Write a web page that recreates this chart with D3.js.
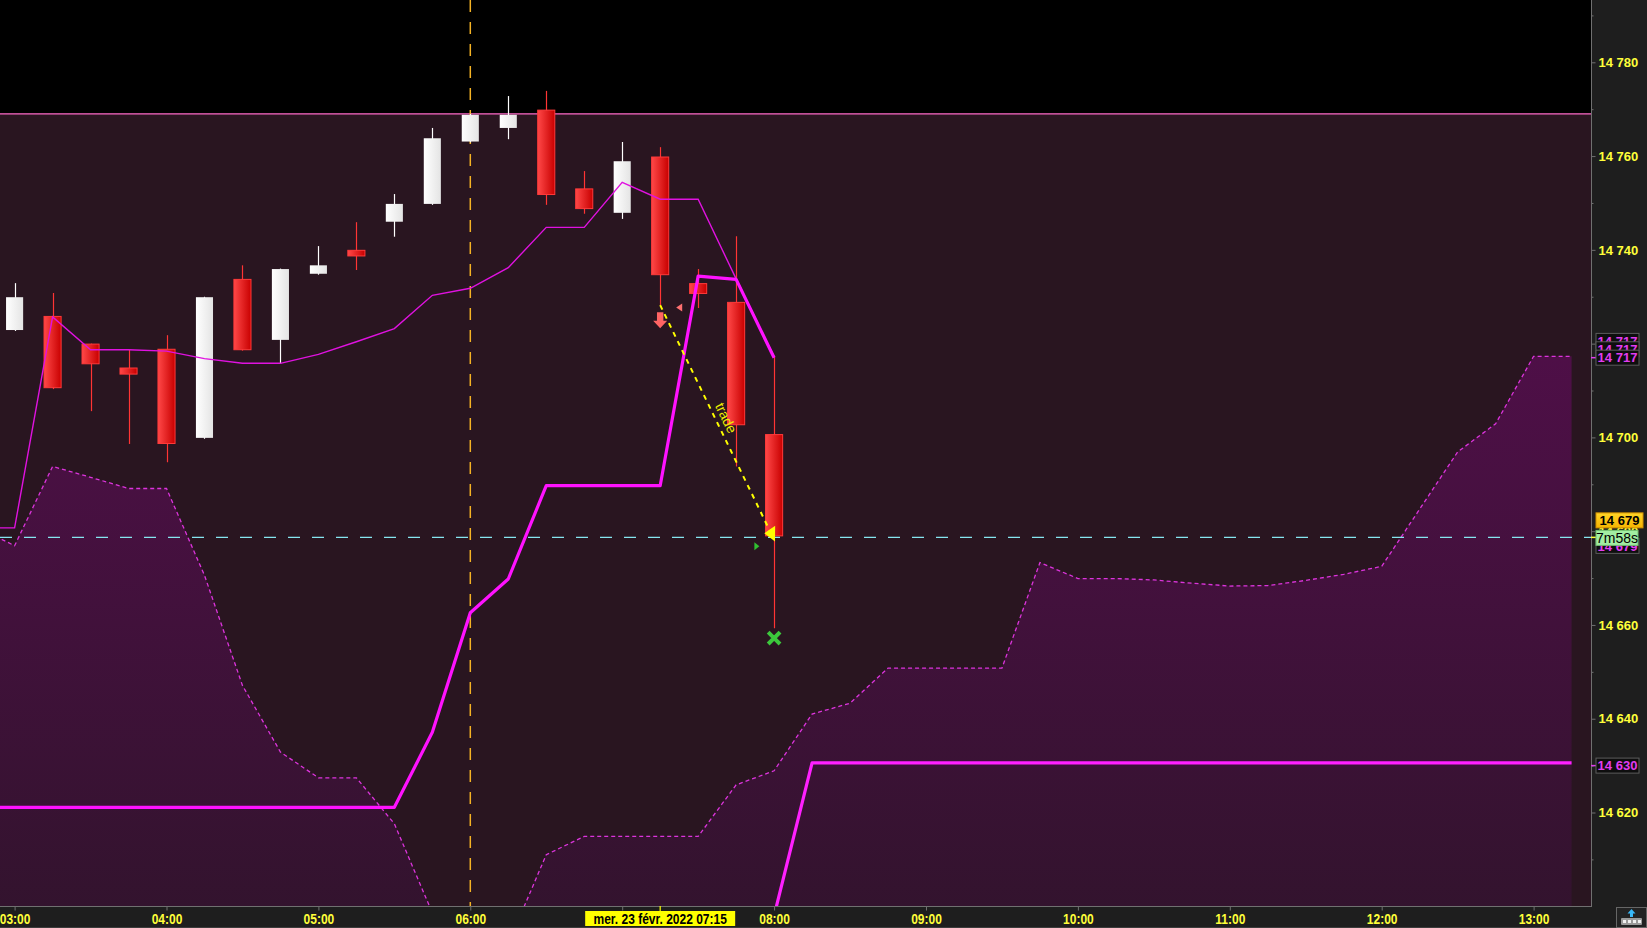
<!DOCTYPE html>
<html><head><meta charset="utf-8">
<script src="https://cdn.jsdelivr.net/npm/d3@7"></script>
<style>html,body{margin:0;padding:0;background:#1e1e1e;overflow:hidden}</style>
</head><body><svg id="c" width="1647" height="928"></svg>
<script>
// ---------- DATA ----------
const candleTimes = ["03:00","03:15","03:30","03:45","04:00","04:15","04:30","04:45","05:00","05:15","05:30","05:45","06:00","06:15","06:30","06:45","07:00","07:15","07:30","07:45","08:00"];
const openValues  = [14722.9,14725.8,14719.9,14714.8,14718.8,14699.9,14733.7,14720.8,14734.9,14739.9,14746.0,14749.8,14763.1,14766.0,14769.8,14753.0,14747.9,14759.8,14732.8,14728.8,14700.6];
const highValues  = [14732.9,14730.8,14720.0,14718.7,14721.8,14730.0,14736.7,14736.0,14740.8,14745.9,14751.9,14766.0,14769.0,14772.8,14773.9,14756.8,14763.0,14761.9,14735.9,14742.9,14717.2];
const lowValues   = [14722.7,14710.3,14705.6,14698.6,14694.7,14699.7,14718.5,14715.8,14734.7,14735.7,14742.8,14749.6,14762.9,14763.6,14749.6,14747.7,14746.6,14728.2,14727.6,14693.8,14659.3];
const closeValues = [14729.9,14710.6,14715.7,14713.5,14698.7,14729.9,14718.7,14735.9,14736.7,14738.7,14749.8,14763.8,14768.8,14768.8,14751.8,14748.8,14758.9,14734.7,14730.7,14702.7,14679.0];

const lineTimes = ["02:45","03:00","03:15","03:30","03:45","04:00","04:15","04:30","04:45","05:00","05:15","05:30","05:45","06:00","06:15","06:30","06:45","07:00","07:15","07:30","07:45","08:00"];
const maValues     = [14680.7,14680.7,14725.7,14718.7,14718.7,14718.4,14716.8,14715.8,14715.8,14717.7,14720.4,14723.2,14730.3,14731.8,14736.2,14744.8,14744.8,14754.4,14750.8,14750.8,14733.8,14717.2];
const baseValues   = [14621.1,14621.1,14621.1,14621.1,14621.1,14621.1,14621.1,14621.1,14621.1,14621.1,14621.1,14621.1,14637.1,14662.6,14669.8,14689.7,14689.7,14689.7,14689.7,14734.4,14733.7,14717.0];

const projTimes  = ["08:00","08:15","13:15"];
const projValues = [14598, 14630.6, 14630.6];

const cloudTimes = ["02:45","03:00","03:15","03:30","03:45","04:00","04:15","04:30","04:45","05:00","05:15","05:30","05:45","06:00","06:15","06:30","06:45","07:00","07:15","07:30","07:45","08:00","08:15","08:30","08:45","09:00","09:15","09:30","09:45","10:00","10:15","10:30","10:45","11:00","11:15","11:30","11:45","12:00","12:15","12:30","12:45","13:00","13:15"];
const cloudValues = [14680.9,14676.9,14693.8,14691.5,14689.1,14689.1,14670.6,14647.1,14632.9,14627.4,14627.4,14617.6,14598.6,14590.0,14592.0,14611.0,14614.9,14614.9,14614.9,14614.9,14625.9,14628.9,14641.0,14643.3,14650.8,14650.8,14650.8,14650.8,14673.3,14669.9,14669.9,14669.6,14668.9,14668.3,14668.4,14669.5,14670.8,14672.5,14684.7,14696.9,14702.9,14717.3,14717.3];

const rangeTopLevel = 14769;
const lastPrice = 14679;
const verticalMarkTime = "06:00";
const crosshairTime = "07:15";
const yTickValues = [14620,14640,14660,14680,14700,14720,14740,14760,14780];
const yMinorValues = [14610,14630,14650,14670,14690,14710,14730,14750,14770,14790];
const xTickLabels = ["03:00","04:00","05:00","06:00","07:00","08:00","09:00","10:00","11:00","12:00","13:00"];
const hiddenXLabels = ["07:00"];
const dateLabel = "mer. 23 févr. 2022 07:15";
const timerLabel = "7m58s";
const tradeFrom = {time:"07:15", value:14728.2};
const tradeTo   = {time:"08:00", value:14678.2};
const tradeText = "trade";
const entryArrow = {time:"07:15", value:14723.3};
const smallRedTri = {time:"07:22:30", value:14727.7};
const smallGreenTri = {time:"07:53", value:14676.8};
const exitCross = {time:"08:00", value:14657.2};
const axisBoxes717 = [14717, 14717, 14717];
const axisBox630 = 14630;

// ---------- SETUP ----------
const T = s => { const p = s.split(":").map(Number); return new Date(2022,1,23,p[0],p[1],p[2]||0); };
const W = 1591, H = 906;
const svg = d3.select("#c");
const x = d3.scaleTime().domain([T("03:00"), T("13:00")]).range([14.6, 1533.6]);
x.domain([x.invert(0), x.invert(W)]).range([0, W]);
const y = d3.scaleLinear().domain([14620, 14780]).range([812.5, 62.3]);
y.domain([y.invert(H), y.invert(0)]).range([H, 0]);
const fmt = d3.formatLocale({decimal:".", thousands:" ", grouping:[3], currency:["",""]}).format(",.0f");
const SANS = "Liberation Sans, Arial, sans-serif";
const NARROW = 0.8;

const defs = svg.append("defs");
defs.append("clipPath").attr("id","plotclip").append("rect").attr("x",0).attr("y",0).attr("width",W).attr("height",H);
const cg = defs.append("linearGradient").attr("id","cloudg").attr("gradientUnits","userSpaceOnUse")
  .attr("x1",0).attr("y1",340).attr("x2",0).attr("y2",H);
cg.append("stop").attr("offset","0").attr("stop-color","#4f0f48");
cg.append("stop").attr("offset","1").attr("stop-color","#33132e");
const rg = defs.append("linearGradient").attr("id","redg").attr("x1",0).attr("x2",1).attr("y1",0).attr("y2",0);
rg.append("stop").attr("offset","0").attr("stop-color","#ff4848");
rg.append("stop").attr("offset","1").attr("stop-color","#c80000");
const wg = defs.append("linearGradient").attr("id","whiteg").attr("x1",0).attr("x2",1).attr("y1",0).attr("y2",0);
wg.append("stop").attr("offset","0").attr("stop-color","#ffffff");
wg.append("stop").attr("offset","1").attr("stop-color","#e4e4e4");
const gg = defs.append("linearGradient").attr("id","goldg").attr("x1",0).attr("x2",0).attr("y1",0).attr("y2",1);
gg.append("stop").attr("offset","0").attr("stop-color","#ffd528");
gg.append("stop").attr("offset","1").attr("stop-color","#f5b400");

svg.append("rect").attr("width",1647).attr("height",928).attr("fill","#1e1e1e");

const plot = svg.append("g").attr("clip-path","url(#plotclip)");
plot.append("rect").attr("width",W).attr("height",H).attr("fill","#291520");
plot.append("rect").attr("width",W).attr("height",y(rangeTopLevel)).attr("fill","#000000");
plot.append("line").attr("x1",0).attr("x2",W).attr("y1",y(rangeTopLevel)).attr("y2",y(rangeTopLevel))
  .attr("stroke","#ff6ac8").attr("stroke-width",1.2);

// cloud
const cloud = cloudTimes.map((t,i)=>({t:T(t), v:cloudValues[i]}));
plot.append("path").datum(cloud)
  .attr("d", d3.area().x(d=>x(d.t)).y0(H).y1(d=>y(d.v)))
  .attr("fill","url(#cloudg)");
plot.append("path").datum(cloud)
  .attr("d", d3.line().x(d=>x(d.t)).y(d=>y(d.v)))
  .attr("fill","none").attr("stroke","#dc34dc").attr("stroke-width",1.3).attr("stroke-dasharray","4,3");

// vertical dashed line
plot.append("line").attr("x1",x(T(verticalMarkTime))).attr("x2",x(T(verticalMarkTime))).attr("y1",0).attr("y2",H)
  .attr("stroke","#f5b224").attr("stroke-width",1.5).attr("stroke-dasharray","12,10");

// candles
const step = x(T("03:15")) - x(T("03:00"));
const bw = step * 0.45;
const candles = candleTimes.map((t,i)=>({t:T(t), o:openValues[i], h:highValues[i], l:lowValues[i], c:closeValues[i]}));
const cgp = plot.append("g");
cgp.selectAll("line.wick").data(candles).join("line")
  .attr("x1",d=>Math.round(x(d.t))+0.5).attr("x2",d=>Math.round(x(d.t))+0.5)
  .attr("y1",d=>y(d.h)).attr("y2",d=>y(d.l))
  .attr("stroke",d=>d.c>=d.o?"#ffffff":"#ff3434").attr("stroke-width",1.2);
cgp.selectAll("rect.body").data(candles).join("rect")
  .attr("x",d=>x(d.t)-bw/2).attr("width",bw)
  .attr("y",d=>y(Math.max(d.o,d.c))).attr("height",d=>Math.max(2,Math.abs(y(d.o)-y(d.c))))
  .attr("fill",d=>d.c>=d.o?"url(#whiteg)":"url(#redg)")
  .attr("stroke",d=>d.c>=d.o?"none":"#ff3a3a").attr("stroke-width",1);

// thin MA line
const lineX = d=>x(d.t), lineY = d=>y(d.v);
plot.append("path").datum(lineTimes.map((t,i)=>({t:T(t), v:maValues[i]})))
  .attr("d", d3.line().x(lineX).y(lineY))
  .attr("fill","none").attr("stroke","#e012e0").attr("stroke-width",1.4);
// thick lines
plot.append("path").datum(lineTimes.map((t,i)=>({t:T(t), v:baseValues[i]})))
  .attr("d", d3.line().x(lineX).y(lineY))
  .attr("fill","none").attr("stroke","#ff12ff").attr("stroke-width",3.2).attr("stroke-linejoin","round");
plot.append("path").datum(projTimes.map((t,i)=>({t:T(t), v:projValues[i]})))
  .attr("d", d3.line().x(lineX).y(lineY))
  .attr("fill","none").attr("stroke","#ff20ff").attr("stroke-width",3.2).attr("stroke-linejoin","round");

// last price dashed line
plot.append("line").attr("x1",0).attr("x2",W).attr("y1",y(lastPrice)+1.5).attr("y2",y(lastPrice)+1.5)
  .attr("stroke","#86e6f0").attr("stroke-width",1.2).attr("stroke-dasharray","12,12");

// trade line
const p0 = [x(T(tradeFrom.time)), y(tradeFrom.value)];
const p1 = [x(T(tradeTo.time)), y(tradeTo.value)];
plot.append("line").attr("x1",p0[0]).attr("y1",p0[1]).attr("x2",p1[0]).attr("y2",p1[1])
  .attr("stroke","#ffff00").attr("stroke-width",2).attr("stroke-dasharray","5,5");
const ang = Math.atan2(p1[1]-p0[1], p1[0]-p0[0]);
const angDeg = ang*180/Math.PI;
plot.append("path")
  .attr("transform",`translate(${p1[0]},${p1[1]}) rotate(${angDeg})`)
  .attr("d","M2,0 L-12,-7 L-10,6 Z").attr("fill","#ffff00");
const mid = [(p0[0]+p1[0])/2, (p0[1]+p1[1])/2];
plot.append("text").attr("transform",`translate(${mid[0]},${mid[1]}) rotate(${angDeg})`)
  .attr("text-anchor","middle").attr("dy",-5)
  .attr("font-family",SANS).attr("font-size",14)
  .attr("fill","#eeee00").text(tradeText);

// markers
const ea = [x(T(entryArrow.time)), y(entryArrow.value)];
plot.append("path").attr("transform",`translate(${ea[0]},${ea[1]})`)
  .attr("d","M0,0 L-7,-7.5 L-3.2,-7.5 L-3.2,-16 L3.2,-16 L3.2,-7.5 L7,-7.5 Z").attr("fill","#ff6464");
const srt = [x(T(smallRedTri.time)), y(smallRedTri.value)];
plot.append("path").attr("transform",`translate(${srt[0]},${srt[1]})`)
  .attr("d","M-3,0 L3,-4 L3,4 Z").attr("fill","#ff7070");
const sgt = [x(T(smallGreenTri.time)), y(smallGreenTri.value)];
plot.append("path").attr("transform",`translate(${sgt[0]},${sgt[1]})`)
  .attr("d","M3,0 L-2,-4 L-2,4 Z").attr("fill","#30c030");
const ec = [x(T(exitCross.time)), y(exitCross.value)];
plot.append("path").attr("transform",`translate(${ec[0]},${ec[1]})`)
  .attr("d","M-4.5,-4.5 L4.5,4.5 M4.5,-4.5 L-4.5,4.5")
  .attr("stroke","#3cc83c").attr("stroke-width",4).attr("stroke-linecap","square");

// ---------- AXES ----------
const axisCol = "#707070";
const yellow = "#ffff3a";
// right axis
svg.append("line").attr("x1",W+0.5).attr("x2",W+0.5).attr("y1",0).attr("y2",H).attr("stroke",axisCol);
const yAx = svg.append("g").attr("transform",`translate(${W+0.5},0)`)
  .call(d3.axisRight(y).tickValues(yTickValues).tickSize(4).tickPadding(3).tickFormat(fmt));
yAx.select(".domain").remove();
yAx.selectAll(".tick line").attr("stroke",axisCol);
yAx.selectAll(".tick text").attr("fill",yellow).attr("font-family",SANS)
  .attr("font-size",13).attr("font-weight","bold");
const yMin = svg.append("g").attr("transform",`translate(${W+0.5},0)`)
  .call(d3.axisRight(y).tickValues(yMinorValues).tickSize(2).tickFormat(""));
yMin.select(".domain").remove();
yMin.selectAll(".tick line").attr("stroke",axisCol);

function axisBox(yc, txt, opts){
  const g = svg.append("g").attr("transform",`translate(1596,${yc})`);
  g.append("rect").attr("x",0).attr("y",-7.5).attr("width",opts.w||43).attr("height",15)
    .attr("fill",opts.fill).attr("stroke",opts.stroke||"none").attr("stroke-width",1);
  g.append("text").attr("x",(opts.w||43)/2).attr("y",0).attr("dy","0.36em").attr("text-anchor","middle")
    .attr("font-family",SANS).attr("font-size",opts.fs||13)
    .attr("font-weight",opts.weight||"bold").attr("fill",opts.color).text(txt);
  return g;
}
function axisMark(yc, col){
  svg.append("line").attr("x1",W).attr("x2",W+5).attr("y1",yc).attr("y2",yc).attr("stroke",col).attr("stroke-width",1.5);
}
// 14 717 boxes (stacked)
axisMark(y(axisBoxes717[0]), "#e03cf0");
axisBoxes717.forEach((v,i)=>{
  const off = (axisBoxes717.length-1-i)*8.4;
  axisBox(y(v)-off, fmt(v), {fill:"#0e0e0e", stroke:"#5c5c5c", color:"#e23cf0"});
});
// last price boxes
axisMark(y(lastPrice)+1.5, yellow);
axisBox(y(lastPrice)+10, fmt(lastPrice), {fill:"#0e0e0e", stroke:"#5c5c5c", color:"#e23cf0"});
axisBox(y(lastPrice)-15.5, fmt(lastPrice), {fill:"url(#goldg)", stroke:"#d09000", color:"#000", w:47});
axisBox(y(lastPrice)+2, timerLabel, {fill:"#a2eea2", stroke:"#70c070", color:"#000", weight:"normal", fs:14, w:42});
// 14 630
axisMark(y(axisBox630), "#e03cf0");
axisBox(y(axisBox630), fmt(axisBox630), {fill:"#0e0e0e", stroke:"#5c5c5c", color:"#e23cf0"});

// bottom axis
svg.append("line").attr("x1",0).attr("x2",W+1).attr("y1",H+0.5).attr("y2",H+0.5).attr("stroke",axisCol);
svg.append("line").attr("x1",0).attr("x2",1647).attr("y1",927.5).attr("y2",927.5).attr("stroke","#3c3c3c");
const tf = d3.timeFormat("%H:%M");
const xAx = svg.append("g").attr("transform",`translate(0,${H+0.5})`)
  .call(d3.axisBottom(x).tickValues(xTickLabels.map(T)).tickSize(4).tickPadding(1)
    .tickFormat(d=>hiddenXLabels.includes(tf(d)) ? "" : tf(d)));
xAx.select(".domain").remove();
xAx.selectAll(".tick line").attr("stroke",axisCol);
xAx.selectAll(".tick text").attr("fill",yellow).attr("font-family",SANS)
  .attr("font-size",15).attr("font-weight","bold").attr("dy","0.82em")
  .attr("transform",`scale(${NARROW},1)`);

// date label
const cx = x(T(crosshairTime));
svg.append("line").attr("x1",cx).attr("x2",cx).attr("y1",H).attr("y2",H+5).attr("stroke","#ffff00").attr("stroke-width",1.2);
svg.append("rect").attr("x",cx-75).attr("y",911).attr("width",150).attr("height",15).attr("fill","#ffff00");
svg.append("text").attr("transform",`translate(${cx},918.5) scale(${NARROW},1)`).attr("dy","0.36em").attr("text-anchor","middle")
  .attr("font-family",SANS).attr("font-size",15).attr("font-weight","bold")
  .attr("fill","#000").text(dateLabel);

// corner icon
const ic = svg.append("g").attr("transform","translate(1616,907)");
ic.append("rect").attr("x",0.5).attr("y",0.5).attr("width",30).attr("height",20).attr("fill","#232323").attr("stroke","#666");
ic.append("path").attr("d","M15.5,2 L11.5,6.5 L14,6.5 L14,10 L17,10 L17,6.5 L19.5,6.5 Z").attr("fill","#38b8f8");
ic.append("rect").attr("x",5).attr("y",11).attr("width",21).attr("height",7).attr("rx",1).attr("fill","#9a9a9a");
[0,1,2,3].forEach(i=>ic.append("rect").attr("x",7+i*5).attr("y",13).attr("width",3).attr("height",3).attr("fill","#f0f0f0"));
</script></body></html>
